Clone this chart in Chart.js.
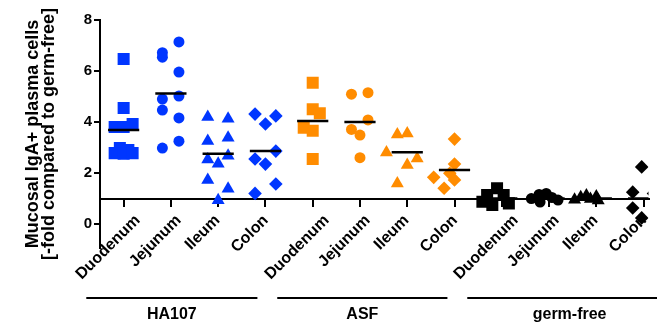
<!DOCTYPE html>
<html>
<head>
<meta charset="utf-8">
<title>Mucosal IgA+ plasma cells</title>
<script src="https://cdn.jsdelivr.net/npm/chart.js@4.4.0/dist/chart.umd.min.js"></script>
<style>
  html, body { margin: 0; padding: 0; background: #fff; }
</style>
</head>
<body>
<canvas id="chart" width="657" height="329"></canvas>
<script>
// Tick labels and categories
const regions = ['Duodenum', 'Jejunum', 'Ileum', 'Colon'];
const groups = ['HA107', 'ASF', 'germ-free'];
const yTicks = [0, 2, 4, 6, 8];

// Values per category (fold vs germ-free)
const ha107Duodenum = [6.47, 4.55, 3.92, 3.80, 3.80, 2.98, 2.90, 2.78, 2.76, 2.78];
const ha107Jejunum  = [6.72, 6.54, 4.90, 4.47, 2.98, 7.14, 5.96, 5.02, 4.16, 3.25];
const ha107Ileum    = [4.20, 3.26, 2.53, 1.73, 4.13, 3.38, 2.68, 1.38, 2.36, 0.93];
const ha107Colon    = [4.31, 2.55, 1.20, 4.24, 2.86, 1.57, 3.92, 2.35];
const asfDuodenum   = [5.54, 4.50, 4.34, 3.78, 3.66, 2.55];
const asfJejunum    = [5.09, 5.15, 4.08, 3.71, 3.49, 2.60];
const asfIleum      = [3.51, 3.55, 2.80, 2.57, 2.31, 1.59];
const asfColon      = [3.33, 2.35, 1.83, 1.99, 1.73, 1.40];
const gfDuodenum    = [1.40, 1.14, 1.14, 0.87, 0.75, 0.81];
const gfJejunum     = [1.00, 1.16, 1.20, 1.04, 0.94, 0.86];
const gfIleum       = [0.95, 1.05, 1.12, 0.98, 1.08, 0.92];
const gfColon       = [2.24, 1.25, 0.63, 0.24, 1.20];

// Horizontal spread of the dots inside each column (category units)
const ha107DuodenumJitter = [0, 0, 0.19, -0.19, 0, -0.08, 0.1, -0.19, 0, 0.19];
const ha107JejunumJitter  = [-0.18, -0.18, -0.18, -0.18, -0.18, 0.17, 0.17, 0.17, 0.17, 0.17];
const ha107IleumJitter    = [-0.22, -0.22, -0.22, -0.22, 0.21, 0.21, 0.21, 0.21, 0, 0];
const ha107ColonJitter    = [-0.22, -0.22, -0.22, 0.22, 0.22, 0.22, 0, 0];
const asfDuodenumJitter   = [0, 0, 0.15, -0.19, 0, 0];
const asfJejunumJitter    = [-0.18, 0.17, 0.17, -0.18, 0, 0];
const asfIleumJitter      = [-0.21, 0, -0.44, 0.21, 0, -0.21];
const asfColonJitter      = [0, 0, -0.44, -0.1, 0, -0.22];
const gfDuodenumJitter    = [-0.1, -0.31, 0.04, -0.41, -0.2, 0.15];
const gfJejunumJitter     = [-0.375, -0.21, -0.06, 0.06, 0.19, -0.19];
const gfIleumJitter       = [-0.46, -0.33, -0.21, -0.125, 0, 0.04];
const gfColonJitter       = [-0.04, -0.23, -0.23, -0.04, 0.21];

// Mean bars per category
const means = [3.69, 5.12, 2.76, 2.86, 4.04, 4.00, 2.81, 2.12, 1.0, 1.0, 1.0, 1.0];

const values = [ha107Duodenum, ha107Jejunum, ha107Ileum, ha107Colon,
                asfDuodenum, asfJejunum, asfIleum, asfColon,
                gfDuodenum, gfJejunum, gfIleum, gfColon];
const jitter = [ha107DuodenumJitter, ha107JejunumJitter, ha107IleumJitter, ha107ColonJitter,
                asfDuodenumJitter, asfJejunumJitter, asfIleumJitter, asfColonJitter,
                gfDuodenumJitter, gfJejunumJitter, gfIleumJitter, gfColonJitter];
const categories = groups.flatMap(() => regions);

const FONT = '"Liberation Sans", Arial, Helvetica, sans-serif';
const groupColors = ['#0036ff', '#ff8c00', '#000000'];
const markerStyles = ['rect', 'circle', 'triangle', 'rectRot'];
const markerSizes = [8.5, 5.5, 7.5, 6.8];

const datasets = [];
categories.forEach((cat, i) => {
    const g = Math.floor(i / regions.length);
    const r = i % regions.length;
    datasets.push({
        label: groups[g] + ' ' + cat,
        data: values[i].map((v, k) => ({ x: i + jitter[i][k], y: v })),
        pointStyle: markerStyles[r],
        pointRadius: markerSizes[r],
        pointHoverRadius: markerSizes[r],
        backgroundColor: groupColors[g],
        borderColor: groupColors[g],
        pointBorderWidth: 0,
        order: 1
    });
    // mean line
    datasets.push({
        label: 'mean',
        data: [{ x: i - 0.33, y: means[i] }, { x: i + 0.33, y: means[i] }],
        showLine: true,
        borderColor: '#000',
        borderWidth: 2.5,
        pointRadius: 0,
        order: 0
    });
});

// Rotated category labels, group bars and the y title
const decorations = {
    id: 'decorations',
    afterDraw(chart) {
        const ctx = chart.ctx;
        const xs = chart.scales.x;
        const ys = chart.scales.y;
        const base = ys.getPixelForValue(1);

        ctx.save();
        ctx.fillStyle = '#000';
        ctx.strokeStyle = '#000';

        // y title
        ctx.font = 'bold 18px ' + FONT;
        ctx.textAlign = 'center';
        ctx.textBaseline = 'middle';
        ctx.save();
        ctx.translate(33, 134);
        ctx.rotate(-Math.PI / 2);
        ctx.fillText('Mucosal IgA+ plasma cells', 0, 0);
        ctx.fillText('[-fold compared to germ-free]', 0, 16);
        ctx.restore();

        // category labels at 45 degrees
        ctx.font = 'bold 16px ' + FONT;
        ctx.textAlign = 'right';
        ctx.textBaseline = 'alphabetic';
        categories.forEach((cat, i) => {
            const x = xs.getPixelForValue(i);
            const w = ctx.measureText(cat).width;
            ctx.save();
            ctx.translate(x - 12.5 + 0.354 * w, base + 22.5);
            ctx.rotate(-Math.PI / 4);
            ctx.fillText(cat, 0, 0);
            ctx.restore();
        });

        // group bars and names
        const spans = [[-0.79, 2.83], [3.25, 6.85], [7.27, 11.6]];
        ctx.lineWidth = 2;
        ctx.textAlign = 'center';
        ctx.textBaseline = 'middle';
        groups.forEach((name, g) => {
            const x0 = xs.getPixelForValue(spans[g][0]);
            const x1 = xs.getPixelForValue(spans[g][1]);
            ctx.beginPath();
            ctx.moveTo(x0, 298);
            ctx.lineTo(x1, 298);
            ctx.stroke();
            ctx.fillText(name, (x0 + x1) / 2, 315);
        });
        ctx.restore();
    }
};

new Chart(document.getElementById('chart'), {
    type: 'scatter',
    data: { datasets: datasets },
    options: {
        responsive: false,
        animation: false,
        events: [],
        layout: { padding: { top: 20, right: 0, bottom: 81, left: 0 } },
        plugins: {
            legend: { display: false },
            tooltip: { enabled: false }
        },
        scales: {
            x: {
                type: 'linear',
                min: -0.5,
                max: 11.104,
                position: { y: 1 },
                border: { color: '#000', width: 2 },
                grid: { drawOnChartArea: false, tickLength: 7, color: '#000', lineWidth: 2 },
                ticks: { display: false },
                afterBuildTicks: s => { s.ticks = categories.map((c, i) => ({ value: i })); }
            },
            y: {
                type: 'linear',
                min: -0.94,
                max: 8,
                border: { color: '#000', width: 2 },
                grid: { drawOnChartArea: false, tickLength: 6, color: '#000', lineWidth: 2 },
                ticks: {
                    color: '#000',
                    padding: 2,
                    font: { family: FONT, size: 15, weight: 'bold' }
                },
                afterBuildTicks: s => { s.ticks = yTicks.map(v => ({ value: v })); },
                afterFit: s => { s.width = 100; }
            }
        }
    },
    plugins: [decorations]
});
</script>
</body>
</html>
